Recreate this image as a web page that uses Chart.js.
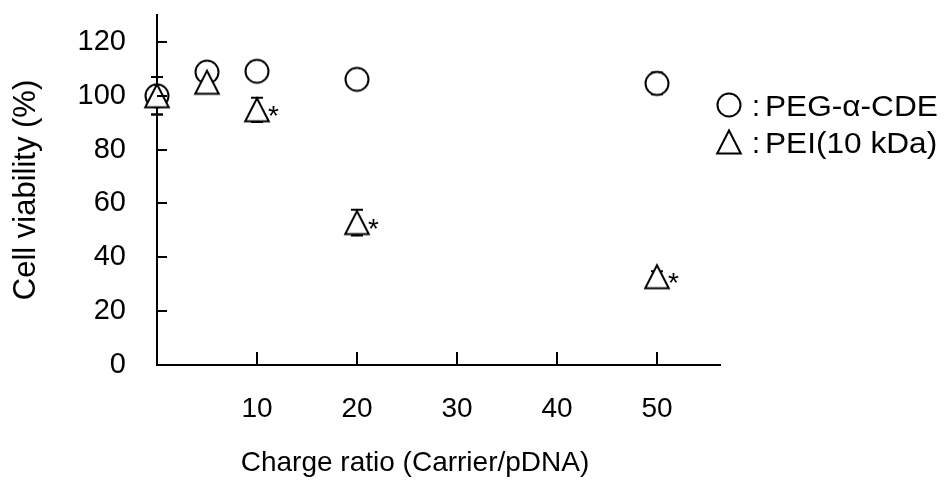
<!DOCTYPE html>
<html>
<head>
<meta charset="utf-8">
<script src="https://cdn.jsdelivr.net/npm/chart.js@4/dist/chart.umd.min.js"></script>
<style>
  html, body { margin: 0; padding: 0; background: #fff; }
  #wrap { width: 951px; height: 484px; }
</style>
</head>
<body>
<div id="wrap"><canvas id="c" width="951" height="484"></canvas></div>
<script>
// Charge ratio (carrier/pDNA) at which each formulation was tested
const chargeRatio = [0, 5, 10, 20, 50];

// PEG-α-CDE: mean cell viability (%) and S.E.
const pegViability = [100, 108.8, 109.1, 106.1, 104.6];
const pegError = [7, 2, 2, 2, 4];

// PEI (10 kDa): mean cell viability (%) and S.E.
const peiViability = [100, 105, 94.8, 52.9, 32.8];
const peiError = [7, 2, 4.5, 4.8, 2];
// significant difference from PEG-α-CDE (marked with *)
const peiSignificant = [false, false, true, true, true];

const xTickValues = [10, 20, 30, 40, 50];
const yTickValues = [0, 20, 40, 60, 80, 100, 120];

const seriesNames = ['PEG-α-CDE', 'PEI(10 kDa)'];
const xAxisTitle = 'Charge ratio (Carrier/pDNA)';

const FONT = '"Liberation Sans", Arial, sans-serif';

// open marker images (white fill, black outline)
function makeMarker(kind) {
  const cv = document.createElement('canvas');
  cv.width = 32; cv.height = 32;
  const g = cv.getContext('2d');
  g.translate(16, 16);
  g.lineWidth = 2;
  g.strokeStyle = '#000';
  g.fillStyle = '#fff';
  g.beginPath();
  if (kind === 'circle') {
    g.arc(0, 0, 11.5, 0, Math.PI * 2);
  } else {
    g.moveTo(0, -11.5);
    g.lineTo(11.8, 11.5);
    g.lineTo(-11.8, 11.5);
    g.closePath();
  }
  g.fill();
  g.stroke();
  return cv;
}
const circleMarker = makeMarker('circle');
const triangleMarker = makeMarker('triangle');

const toPoints = (ys) => chargeRatio.map((x, i) => ({ x: x, y: ys[i] }));

// vertical error bars, drawn underneath the markers
const errorBars = {
  id: 'errorBars',
  beforeDatasetsDraw(chart) {
    const ctx = chart.ctx;
    const ys = chart.scales.y;
    ctx.save();
    ctx.strokeStyle = '#000';
    ctx.lineWidth = 2;
    chart.data.datasets.forEach((ds, di) => {
      const meta = chart.getDatasetMeta(di);
      meta.data.forEach((pt, i) => {
        const v = ds.data[i].y, e = ds.errors[i];
        if (!e) return;
        const top = ys.getPixelForValue(v + e);
        const bot = ys.getPixelForValue(v - e);
        ctx.beginPath();
        ctx.moveTo(pt.x, top); ctx.lineTo(pt.x, bot);
        ctx.moveTo(pt.x - 6, top); ctx.lineTo(pt.x + 6, top);
        ctx.moveTo(pt.x - 6, bot); ctx.lineTo(pt.x + 6, bot);
        ctx.stroke();
      });
    });
    ctx.restore();
  }
};

// significance asterisks beside the PEI markers
const asterisks = {
  id: 'asterisks',
  afterDatasetsDraw(chart) {
    const ctx = chart.ctx;
    ctx.save();
    ctx.fillStyle = '#000';
    ctx.font = '28px ' + FONT;
    ctx.textAlign = 'left';
    ctx.textBaseline = 'alphabetic';
    chart.data.datasets.forEach((ds, di) => {
      if (!ds.significant) return;
      const meta = chart.getDatasetMeta(di);
      meta.data.forEach((pt, i) => {
        if (ds.significant[i]) ctx.fillText('*', pt.x + 11, pt.y + 15);
      });
    });
    ctx.restore();
  }
};

// inward tick marks on both axes
const innerTicks = {
  id: 'innerTicks',
  afterDatasetsDraw(chart) {
    const ctx = chart.ctx;
    const xs = chart.scales.x, ys = chart.scales.y;
    const area = chart.chartArea;
    ctx.save();
    ctx.strokeStyle = '#000';
    ctx.lineWidth = 2;
    ctx.beginPath();
    ys.ticks.forEach(t => {
      const py = Math.round(ys.getPixelForValue(t.value));
      ctx.moveTo(area.left, py); ctx.lineTo(area.left + 10, py);
    });
    xs.ticks.forEach(t => {
      const px = Math.round(xs.getPixelForValue(t.value));
      ctx.moveTo(px, area.bottom); ctx.lineTo(px, area.bottom - 13);
    });
    ctx.stroke();
    ctx.restore();
  }
};

// x-axis caption, set slightly left of the plot centre
const xCaption = {
  id: 'xCaption',
  afterDraw(chart) {
    const ctx = chart.ctx;
    ctx.save();
    ctx.fillStyle = '#000';
    ctx.font = '28px ' + FONT;
    ctx.textAlign = 'center';
    ctx.textBaseline = 'alphabetic';
    ctx.fillText(xAxisTitle, 415, 471);
    ctx.restore();
  }
};

// series key at the right: marker, colon, name
const seriesKey = {
  id: 'seriesKey',
  afterDraw(chart) {
    const ctx = chart.ctx;
    const rows = [
      { img: circleMarker, y: 105, label: seriesNames[0] },
      { img: triangleMarker, y: 142, label: seriesNames[1] }
    ];
    ctx.save();
    ctx.fillStyle = '#000';
    ctx.font = '29px ' + FONT;
    ctx.textBaseline = 'alphabetic';
    ctx.textAlign = 'left';
    rows.forEach(r => {
      ctx.drawImage(r.img, 729 - 16, r.y - 16);
      ctx.fillText(':', 752, r.y + 11);
      ctx.save();
      ctx.translate(765, r.y + 11);
      ctx.scale(1.09, 1);
      ctx.fillText(r.label, 0, 0);
      ctx.restore();
    });
    ctx.restore();
  }
};

new Chart(document.getElementById('c'), {
  type: 'scatter',
  data: {
    datasets: [
      {
        label: seriesNames[0],
        data: toPoints(pegViability),
        errors: pegError,
        pointStyle: circleMarker,
        pointRadius: 12,
        order: 2,
        clip: false
      },
      {
        label: seriesNames[1],
        data: toPoints(peiViability),
        errors: peiError,
        significant: peiSignificant,
        pointStyle: triangleMarker,
        pointRadius: 12,
        order: 1,
        clip: false
      }
    ]
  },
  options: {
    responsive: false,
    animation: false,
    events: [],
    layout: { autoPadding: false, padding: { left: 0, top: 15, right: 231, bottom: 0 } },
    plugins: {
      legend: { display: false },
      tooltip: { enabled: false }
    },
    scales: {
      x: {
        type: 'linear',
        min: 0,
        max: 56.3,
        afterBuildTicks: (s) => { s.ticks = xTickValues.map(v => ({ value: v })); },
        afterFit: (s) => { s.height = 119; s.paddingLeft = 0; s.paddingRight = 0; },
        ticks: { color: '#000', font: { family: FONT, size: 28 }, padding: 27, maxRotation: 0 },
        grid: { display: true, drawOnChartArea: false, drawTicks: false, color: 'rgba(0,0,0,0)' },
        border: { display: true, color: '#000', width: 2 },
        title: { display: false }
      },
      y: {
        type: 'linear',
        min: 0,
        max: 130,
        afterBuildTicks: (s) => { s.ticks = yTickValues.map(v => ({ value: v })); },
        afterFit: (s) => { s.width = 157; s.paddingTop = 0; s.paddingBottom = 0; },
        ticks: { color: '#000', font: { family: FONT, size: 29 }, padding: 31 },
        grid: { display: true, drawOnChartArea: false, drawTicks: false, color: 'rgba(0,0,0,0)' },
        border: { display: true, color: '#000', width: 2 },
        title: {
          display: true,
          text: 'Cell viability (%)',
          color: '#000',
          font: { family: FONT, size: 31 },
          padding: { top: 8, bottom: 0 }
        }
      }
    }
  },
  plugins: [errorBars, asterisks, innerTicks, xCaption, seriesKey]
});
</script>
</body>
</html>
